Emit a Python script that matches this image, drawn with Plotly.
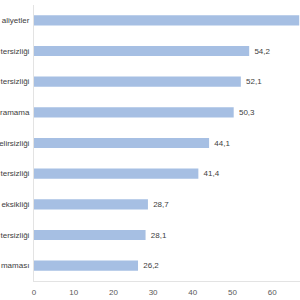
import plotly.graph_objects as go

categories = ["aliyetler", "tersizliği", "tersizliği", "ramama", "elirsizliği",
              "tersizliği", "eksikliği", "tersizliği", "maması"]
values = [66.8, 54.2, 52.1, 50.3, 44.1, 41.4, 28.7, 28.1, 26.2]
x_ticks = [0, 10, 20, 30, 40, 50, 60]

# the first bar's value label lies beyond the visible frame in the reference
labels = [""] + [" " + f"{v:.1f}".replace(".", ",") for v in values[1:]]
ids = [f"c{i}" for i in range(len(categories))]

fig = go.Figure(go.Bar(
    y=ids, x=values, orientation="h",
    marker=dict(color="#a6bfe3", line=dict(width=0)),
    width=0.33,
    text=labels, textposition="outside", cliponaxis=True,
    textfont=dict(family="Liberation Sans", size=8, color="#404040"),
))

fig.update_layout(
    width=300, height=300,
    margin=dict(l=34, r=0, t=5, b=19, autoexpand=False),
    paper_bgcolor="white", plot_bgcolor="white",
    showlegend=False,
    font=dict(family="Liberation Sans", size=8, color="#404040"),
)
fig.update_xaxes(
    range=[0, 67], tickvals=x_ticks, ticktext=[str(t) for t in x_ticks],
    showgrid=False, zeroline=False, showline=True, linecolor="#e3e3e3",
    linewidth=1, tickfont=dict(size=8, color="#595959"), ticks="",
    ticklabelstandoff=3, automargin=False,
)
fig.update_yaxes(
    tickvals=ids, ticktext=categories, autorange="reversed",
    showgrid=False, zeroline=False, showline=True, linecolor="#e3e3e3",
    linewidth=1, ticks="",
    tickfont=dict(family="Liberation Sans Narrow, Liberation Sans", size=8, color="#404040"),
    ticklabelstandoff=2, automargin=False,
)

fig.write_html("out.html")
